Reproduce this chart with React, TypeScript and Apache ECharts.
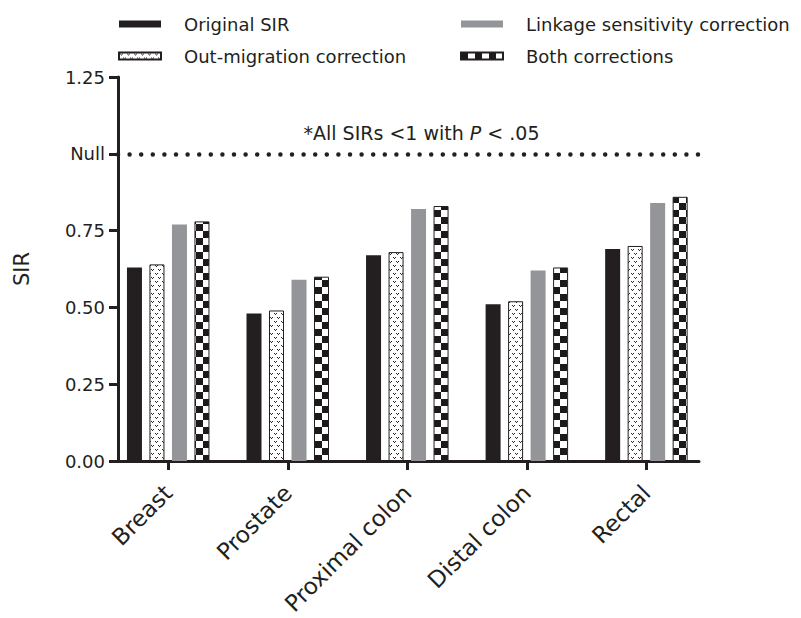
import React, { useEffect, useRef } from 'react';
import * as echarts from 'echarts';

const categories = ['Breast', 'Prostate', 'Proximal colon', 'Distal colon', 'Rectal'];
const seriesNames = ['Original SIR', 'Out-migration correction', 'Linkage sensitivity correction', 'Both corrections'];
const originalSIR = [0.63, 0.48, 0.67, 0.51, 0.69];
const outMigration = [0.64, 0.49, 0.68, 0.52, 0.70];
const linkage = [0.77, 0.59, 0.82, 0.62, 0.84];
const bothCorr = [0.78, 0.60, 0.83, 0.63, 0.86];
const categoryIndex = [0, 1, 2, 3, 4];
const yTickLabels = ['0.00', '0.25', '0.50', '0.75', 'Null', '1.25'];
const nullValue = 1;
const annotationParts = ['*All SIRs <1 with ', 'P', ' < .05'];

const INK = '#231f20';
const GREY = '#939598';
const FONT = 'DejaVu Sans';

function makeChecker(): HTMLCanvasElement {
  const c = document.createElement('canvas');
  c.width = 14; c.height = 14;
  const ctx = c.getContext('2d')!;
  ctx.fillStyle = '#ffffff'; ctx.fillRect(0, 0, 14, 14);
  ctx.fillStyle = '#1c1a1b';
  ctx.fillRect(0, 0, 7, 7); ctx.fillRect(7, 7, 7, 7);
  return c;
}
function makeDots(): HTMLCanvasElement {
  const c = document.createElement('canvas');
  c.width = 7; c.height = 8;
  const ctx = c.getContext('2d')!;
  ctx.fillStyle = '#ffffff'; ctx.fillRect(0, 0, 7, 8);
  ctx.fillStyle = '#2a2a2a';
  const v = (x: number, y: number) => {
    ctx.fillRect(x, y, 1, 1); ctx.fillRect(x + 2, y, 1, 1); ctx.fillRect(x + 1, y + 1, 1, 1);
  };
  v(1, 1); v(4, 5);
  return c;
}

export default function App() {
  const ref = useRef<HTMLDivElement>(null);
  useEffect(() => {
    const chart = echarts.init(ref.current!, null, { renderer: 'svg' });
    const checker = makeChecker();
    const dots = makeDots();
    const pat = (img: HTMLCanvasElement, x = 0, y = 0) => ({
      image: img, repeat: 'repeat', imageWidth: img.width, imageHeight: img.height, x, y,
    });
    const values = [originalSIR, outMigration, linkage, bothCorr];
    const baseColors: any[] = [INK, pat(dots), GREY, pat(checker)];
    const buildSeries = (layouts?: any[][]) => values.map((vals, si) => ({
      name: seriesNames[si],
      type: 'bar',
      barWidth: 15,
      barGap: '50%',
      itemStyle: {
        color: baseColors[si],
        borderColor: INK,
        borderWidth: si === 1 || si === 3 ? 1 : 0,
      },
      data: vals.map((v, i) => {
        const item: any = { value: [categoryIndex[i], v] };
        const L = layouts && layouts[si] && layouts[si][i];
        if (L && (si === 1 || si === 3)) {
          item.itemStyle = { color: pat(si === 3 ? checker : dots, L.x + 0.5, L.y) };
        }
        return item;
      }),
      markLine: si === 0 ? {
        silent: true,
        symbol: 'none',
        lineStyle: { color: INK, width: 4.5, type: [0, 11.6], cap: 'round' },
        label: {
          show: true,
          position: 'insideMiddleTop',
          distance: 11,
          padding: [0, 0, 0, 26],
          formatter: `{a|${annotationParts[0]}}{i|${annotationParts[1]}}{a|${annotationParts[2]}}`,
          rich: {
            a: { fontFamily: FONT, fontSize: 19, color: INK },
            i: { fontFamily: FONT, fontSize: 19, color: INK, fontStyle: 'italic' },
          },
        },
        data: [{ yAxis: nullValue }],
      } : undefined,
    }));

    const legendCommon = {
      orient: 'vertical',
      itemWidth: 42,
      itemHeight: 7,
      itemGap: 14,
      padding: 0,
      icon: 'rect',
      selectedMode: false,
      textStyle: { fontFamily: FONT, fontSize: 18, color: INK, padding: [0, 0, 0, 18] },
    };

    const option: any = {
      animation: false,
      backgroundColor: '#ffffff',
      textStyle: { fontFamily: FONT },
      legend: [
        { ...legendCommon, left: 118, top: 15, data: [seriesNames[0], seriesNames[1]] },
        { ...legendCommon, left: 460, top: 15, data: [seriesNames[2], seriesNames[3]] },
      ],
      grid: { left: 118, right: 102, top: 77, bottom: 157, containLabel: false },
      xAxis: {
        type: 'value',
        min: -0.42,
        max: 4.44,
        splitLine: { show: false },
        axisLine: { show: true, onZero: false, lineStyle: { color: INK, width: 3 } },
        axisTick: { show: true, customValues: categoryIndex, length: 9, lineStyle: { color: INK, width: 3 } },
        axisLabel: {
          customValues: categoryIndex,
          formatter: (v: number) => categories[Math.round(v)] ?? '',
          rotate: 45,
          margin: 28,
          fontFamily: FONT,
          fontSize: 23,
          color: INK,
        },
      },
      yAxis: {
        type: 'value',
        min: 0,
        max: 1.25,
        interval: 0.25,
        name: 'SIR',
        nameLocation: 'middle',
        nameGap: 86,
        nameRotate: 90,
        nameTextStyle: { fontFamily: FONT, fontSize: 21, color: INK },
        splitLine: { show: false },
        axisLine: { show: true, onZero: false, lineStyle: { color: INK, width: 3 } },
        axisTick: { show: true, length: 9, lineStyle: { color: INK, width: 3 } },
        axisLabel: {
          margin: 13,
          fontFamily: FONT,
          fontSize: 18,
          color: INK,
          formatter: (v: number) => yTickLabels[Math.round(v / 0.25)] ?? '',
        },
      },
      series: buildSeries(),
    };
    chart.setOption(option);
    try {
      const model: any = (chart as any).getModel();
      const layouts = values.map((vals, si) => {
        const d = model.getSeriesByIndex(si).getData();
        return vals.map((_, i) => d.getItemLayout(i));
      });
      chart.setOption({ series: buildSeries(layouts) });
    } catch (e) {
      // keep base patterns
    }
    return () => chart.dispose();
  }, []);
  return <div ref={ref} style={{ position: 'fixed', left: 0, top: 0, width: 801, height: 618 }} />;
}
